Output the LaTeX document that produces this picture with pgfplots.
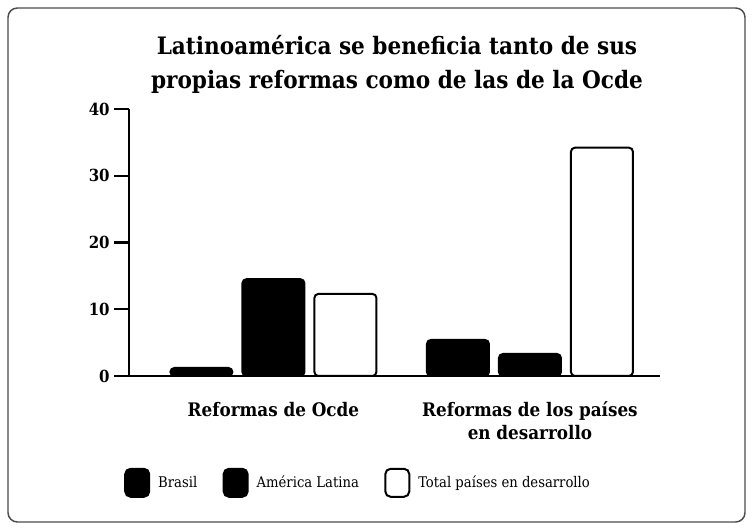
\documentclass[border=0pt]{standalone}
\usepackage{fontspec}
\setmainfont{DejaVu Serif Condensed}
\usepackage{pgfplots}
\pgfplotsset{compat=1.18}

\begin{document}
\begin{tikzpicture}[x=0.75pt,y=0.75pt]
% page extent and frame (1 unit = 1 px of the reference)
\path (-129,-154) rectangle (624,376);
\draw[line width=1.1pt, black!70, rounded corners=7pt] (-121,-146) rectangle (616,368);
\begin{axis}[
    at={(0,0)}, anchor=south west,
    scale only axis,
    width=398.25pt, height=200.25pt,
    xmin=-0.563, xmax=1.507,
    ymin=0, ymax=40,
    axis x line*=bottom, axis y line*=left,
    axis line style={line width=1.7pt, -},
    ytick={0,10,20,30,40},
    tick align=outside,
    major tick length=11pt,
    ytick style={line width=1.7pt, black},
    xtick={0,1},
    xtick style={draw=none},
    xticklabels={Reformas de Ocde, {Reformas de los países\\en desarrollo}},
    xticklabel style={align=center, font=\fontsize{14}{17}\selectfont\bfseries, yshift=-5pt},
    yticklabel style={font=\fontsize{12.5}{14}\selectfont\bfseries},
    /pgf/number format/assume math mode=true,
    ybar=7.5pt, bar width=46.5pt,
    legend style={at={(-0.017,-0.40)}, anchor=west, draw=none, fill=none,
        legend columns=3, font=\fontsize{11}{13}\selectfont,
        /tikz/every odd column/.append style={column sep=4pt},
        /tikz/every even column/.append style={column sep=17pt}},
    legend image code/.code={\draw[#1, rounded corners=4pt] (0pt,-10.5pt) rectangle (18pt,10.5pt);},
]
\addplot[fill=black, draw=black, line width=1.5pt, rounded corners=3pt]
    coordinates {(0,1.2) (1,5.4)};
\addlegendentry{Brasil}
\addplot[fill=black, draw=black, line width=1.5pt, rounded corners=3pt]
    coordinates {(0,14.5) (1,3.3)};
\addlegendentry{América Latina}
\addplot[fill=white, draw=black, line width=1.5pt, rounded corners=3pt]
    coordinates {(0,12.3) (1,34.2)};
\addlegendentry{Total países en desarrollo}
\end{axis}
\node[align=center, font=\fontsize{18}{26}\selectfont\bfseries] at (268,311.5)
    {Latinoamérica se beneficia tanto de sus\\propias reformas como de las de la Ocde};
\end{tikzpicture}
\end{document}
